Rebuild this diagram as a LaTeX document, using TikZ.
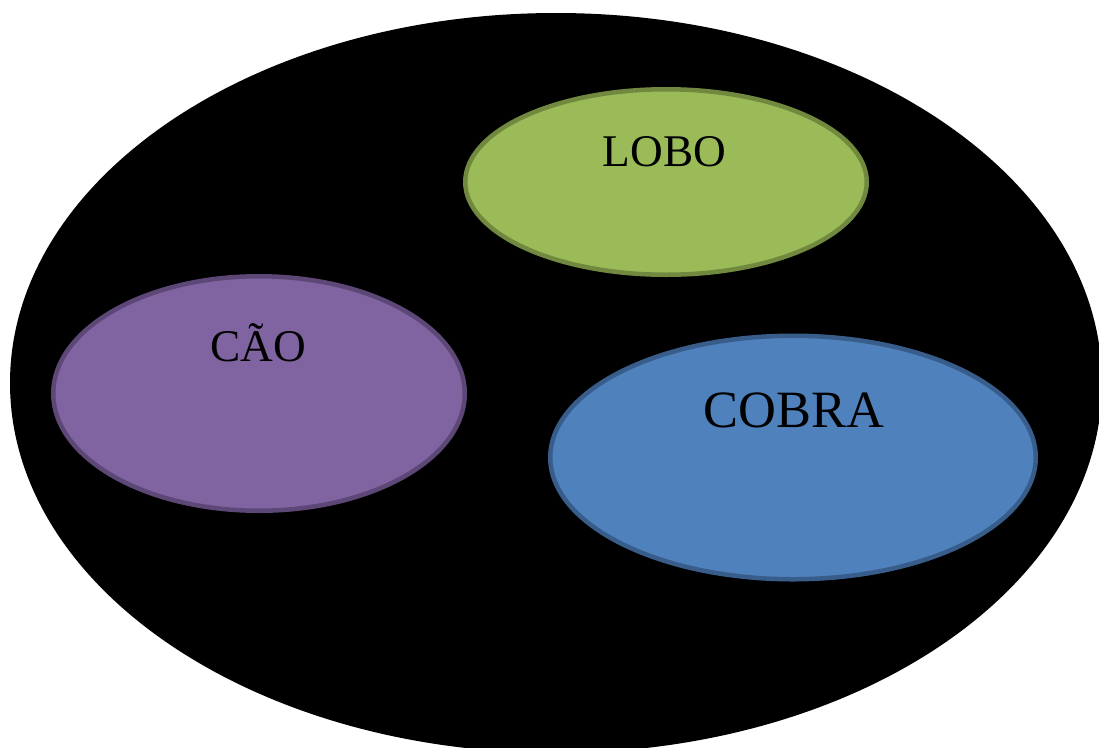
\documentclass[tikz,border=0pt]{standalone}
\usepackage{fontspec}
\setmainfont{Liberation Serif}
\usetikzlibrary{shapes.geometric}
\definecolor{lobofill}{HTML}{9BBB59}
\definecolor{loboline}{HTML}{71893F}
\definecolor{caofill}{HTML}{8064A2}
\definecolor{caoline}{HTML}{5C4776}
\definecolor{cobrafill}{HTML}{4F81BD}
\definecolor{cobraline}{HTML}{385D8A}
\begin{document}
\begin{tikzpicture}[x=1pt,y=-1pt,
  set/.style={ellipse, inner sep=0pt, line width=4.5pt},
  setname/.style={anchor=base, inner sep=0pt, text=black}]
\useasboundingbox (0,0) rectangle (1099,747);
\clip (0,0) rectangle (1099,747);
% outer universe
\node[ellipse, fill=black, inner sep=0pt, minimum width=1092pt, minimum height=740pt] (universe) at (556,383) {};
% the three sets
\node[set, fill=lobofill, draw=loboline, minimum width=401.5pt, minimum height=185.5pt] (lobo) at (666,182) {};
\node[set, fill=caofill, draw=caoline, minimum width=411.5pt, minimum height=234.5pt] (cao) at (259,393.5) {};
\node[set, fill=cobrafill, draw=cobraline, minimum width=485.5pt, minimum height=243.5pt] (cobra) at (793,457.5) {};
% labels
\node[setname, font=\fontsize{45.3}{50}\selectfont] (lobolabel) at (664.5,166.7) {LOBO};
\node[setname, font=\fontsize{45.3}{50}\selectfont] (caolabel) at (258.5,361.7) {CÃO};
\node[setname, font=\fontsize{52.4}{58}\selectfont] (cobralabel) at (793.8,427.3) {COBRA};
\end{tikzpicture}
\end{document}
